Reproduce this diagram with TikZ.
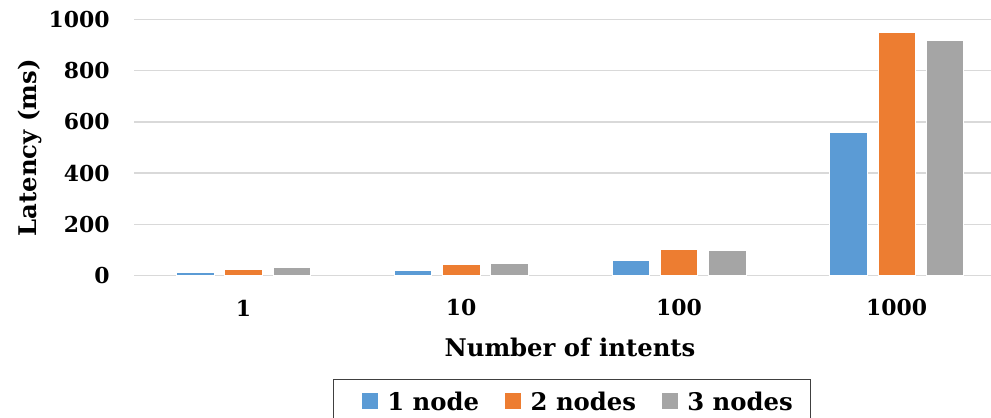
\documentclass[tikz,border=0pt]{standalone}
\usepackage{fontspec}
\setmainfont{DejaVu Serif}
\usetikzlibrary{positioning}
\definecolor{oneN}{HTML}{5B9BD5}
\definecolor{twoN}{HTML}{ED7D31}
\definecolor{threeN}{HTML}{A5A5A5}
\definecolor{gridc}{HTML}{D9D9D9}

\begin{document}
\begin{tikzpicture}[x=0.25mm,y=-0.25mm,font=\bfseries\fontsize{15.6}{18}\selectfont]
  \tikzset{gridline/.style={gridc,line width=0.3mm},
    bar/.style={draw=white,line width=0.15mm},
    ytick/.style={anchor=east,inner sep=0pt},
    xtick/.style={inner sep=0pt},
    bigtext/.style={font=\bfseries\fontsize{17.3}{20}\selectfont},
    swatch/.style={minimum size=4mm,inner sep=0pt},
    legtext/.style={bigtext,inner sep=0pt}}
  \clip (0,0) rectangle (991,417);
  % y axis with grid
  \foreach \v in {0,200,...,1000}{
    \draw[gridline] (134,{275.3-0.2556*\v}) -- (991,{275.3-0.2556*\v});
    \node[ytick] (y\v) at (110,{275.3-0.2556*\v}) {\v};
  }
  \node[bigtext,rotate=90] (ytitle) at (30,148) {Latency (ms)};
  % bars, one group per number of intents
  \foreach \i/\a/\b/\c/\lab in {0/10/25/33/1,1/21/43/48/10,2/59/102/99/100,3/560/951/921/1000}{
    \pgfmathsetmacro\cx{243.5+217.7*\i}
    \filldraw[bar,fill=oneN] ({\cx-67.05},275.3) rectangle ({\cx-29.55},{275.3-0.2556*\a});
    \filldraw[bar,fill=twoN] ({\cx-18.75},275.3) rectangle ({\cx+18.75},{275.3-0.2556*\b});
    \filldraw[bar,fill=threeN] ({\cx+29.55},275.3) rectangle ({\cx+67.05},{275.3-0.2556*\c});
    \node[xtick] (x\lab) at (\cx,308) {\lab};
  }
  \node[bigtext] (xtitle) at (570,347) {Number of intents};
  % legend
  \draw[black!75,line width=0.25mm] (333.3,430) rectangle (810,379);
  \node[swatch,fill=oneN] (k1) at (369.9,401) {};
  \node[legtext,right=2.2mm of k1] (t1) {1 node};
  \node[swatch,fill=twoN] (k2) at (513.3,401) {};
  \node[legtext,right=2.2mm of k2] (t2) {2 nodes};
  \node[swatch,fill=threeN] (k3) at (669.9,401) {};
  \node[legtext,right=2.2mm of k3] (t3) {3 nodes};
\end{tikzpicture}
\end{document}
